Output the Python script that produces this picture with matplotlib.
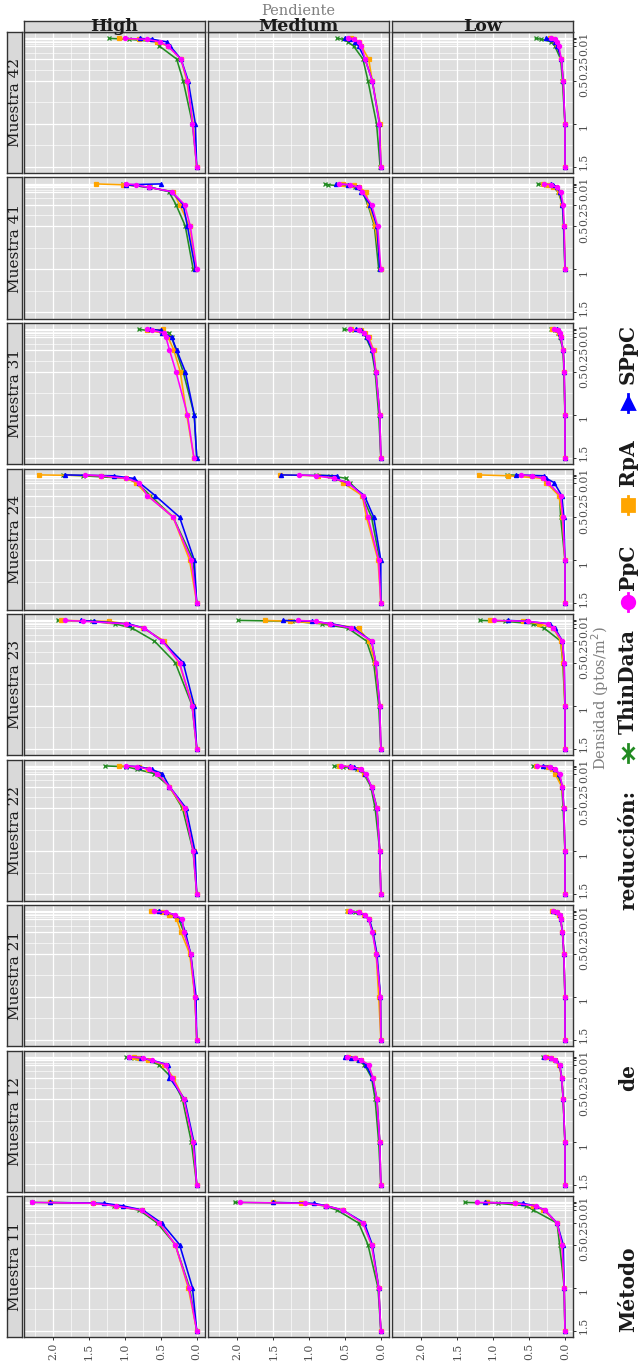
import matplotlib
matplotlib.use('Agg')
import matplotlib.pyplot as plt
from matplotlib.transforms import ScaledTranslation

# ---------------- data ----------------
densidades = [0.01, 0.02, 0.05, 0.1, 0.25, 0.5, 1.0, 1.5]
muestras = ['42', '41', '31', '24', '23', '22', '21', '12', '11']
pendientes = ['High', 'Medium', 'Low']
metodos = ['ThinData', 'PpC', 'RpA', 'SPpC']
colores = {'ThinData': '#228B22', 'PpC': '#FF00FF', 'RpA': '#FFA500', 'SPpC': '#0000FF'}
marcadores = {'ThinData': 'x', 'PpC': 'o', 'RpA': 's', 'SPpC': '^'}
x_breaks = [0.0, 0.5, 1.0, 1.5, 2.0]
x_labels = ['0.0', '0.5', '1.0', '1.5', '2.0']
y_labels = ['0.01', '', '', '', '0.25', '0.5', '1', '1.5']

# each panel: [ThinData, PpC, RpA, SPpC]
m42_high = [[1.22, 0.94, 0.55, 0.52, 0.28, 0.19, 0.06, 0.0],
            [1.00, 0.70, 0.51, 0.40, 0.22, 0.13, 0.06, 0.0],
            [1.09, 0.80, 0.56, 0.40, 0.22, 0.14, 0.05, 0.0],
            [0.79, 0.62, 0.42, 0.37, 0.22, 0.12, 0.02, 0.0]]
m42_medium = [[0.61, 0.53, 0.46, 0.38, 0.25, 0.18, 0.06, 0.01],
              [0.46, 0.38, 0.31, 0.27, 0.22, 0.12, 0.02, 0.0],
              [0.41, 0.37, 0.31, 0.27, 0.17, 0.12, 0.01, 0.0],
              [0.50, 0.43, 0.36, 0.31, 0.22, 0.12, 0.02, 0.0]]
m42_low = [[0.41, 0.33, 0.19, 0.14, 0.06, 0.035, 0.0, 0.0],
           [0.20, 0.14, 0.11, 0.085, 0.05, 0.025, 0.0, 0.0],
           [0.21, 0.16, 0.14, 0.11, 0.05, 0.025, 0.0, 0.0],
           [0.26, 0.19, 0.14, 0.11, 0.05, 0.025, 0.0, 0.0]]

m41_high = [[1.03, 0.98, 0.65, 0.39, 0.29, 0.16, 0.05],
            [0.99, 0.85, 0.67, 0.35, 0.17, 0.09, 0.0],
            [1.41, 1.03, 0.67, 0.33, 0.24, 0.10, 0.01],
            [0.50, 0.98, 0.66, 0.35, 0.19, 0.13, 0.02]]
m41_medium = [[0.78, 0.73, 0.36, 0.26, 0.18, 0.09, 0.03],
              [0.58, 0.43, 0.31, 0.26, 0.13, 0.045, 0.0],
              [0.53, 0.38, 0.31, 0.21, 0.17, 0.08, 0.0],
              [0.62, 0.46, 0.33, 0.27, 0.15, 0.055, 0.015]]
m41_low = [[0.38, 0.26, 0.16, 0.095, 0.035, 0.02, 0.0],
           [0.29, 0.19, 0.11, 0.06, 0.025, 0.01, 0.0],
           [0.31, 0.24, 0.16, 0.085, 0.035, 0.01, 0.0],
           [0.20, 0.16, 0.11, 0.075, 0.035, 0.015, 0.0]]

m31_high = [[0.81, 0.70, 0.38, 0.35, 0.29, 0.19, 0.035, 0.0],
            [0.69, 0.63, 0.45, 0.43, 0.38, 0.29, 0.13, 0.04],
            [0.47, 0.69, 0.48, 0.40, 0.32, 0.23, 0.14, 0.04],
            [0.65, 0.50, 0.48, 0.35, 0.28, 0.16, 0.035, 0.0]]
m31_medium = [[0.52, 0.41, 0.23, 0.21, 0.13, 0.08, 0.03, 0.0],
              [0.43, 0.31, 0.23, 0.18, 0.11, 0.07, 0.015, 0.0],
              [0.42, 0.28, 0.22, 0.17, 0.10, 0.07, 0.015, 0.0],
              [0.35, 0.27, 0.23, 0.20, 0.12, 0.07, 0.015, 0.0]]
m31_low = [[0.19, 0.14, 0.095, 0.075, 0.025, 0.015, 0.0, 0.0],
           [0.15, 0.10, 0.075, 0.06, 0.025, 0.01, 0.0, 0.0],
           [0.18, 0.11, 0.085, 0.06, 0.025, 0.01, 0.0, 0.0],
           [0.11, 0.085, 0.075, 0.06, 0.025, 0.01, 0.0, 0.0]]

m24_high = [[1.86, 1.59, 0.98, 0.83, 0.65, 0.33, 0.05, 0.0],
            [1.56, 1.33, 0.98, 0.80, 0.69, 0.33, 0.075, 0.0],
            [2.20, 1.33, 0.98, 0.85, 0.68, 0.33, 0.10, 0.0],
            [1.84, 1.16, 0.88, 0.80, 0.58, 0.24, 0.035, 0.0]]
m24_medium = [[0.91, 0.71, 0.48, 0.43, 0.26, 0.13, 0.015, 0.0],
              [1.14, 0.91, 0.66, 0.46, 0.25, 0.18, 0.03, 0.0],
              [1.41, 0.88, 0.63, 0.53, 0.26, 0.20, 0.04, 0.0],
              [1.39, 0.61, 0.66, 0.46, 0.23, 0.10, 0.0, 0.0]]
m24_low = [[0.81, 0.46, 0.29, 0.24, 0.075, 0.06, 0.0, 0.0],
           [0.61, 0.46, 0.30, 0.24, 0.06, 0.03, 0.0, 0.0],
           [1.20, 0.80, 0.31, 0.26, 0.085, 0.035, 0.0, 0.0],
           [0.68, 0.29, 0.26, 0.15, 0.045, 0.015, 0.0, 0.0]]

m23_high = [[1.94, 1.46, 1.14, 0.90, 0.59, 0.30, 0.065, 0.0],
            [1.84, 1.58, 0.98, 0.73, 0.48, 0.24, 0.065, 0.0],
            [1.89, 1.23, 0.98, 0.75, 0.45, 0.25, 0.05, 0.0],
            [1.61, 1.43, 0.95, 0.73, 0.48, 0.19, 0.035, 0.0]]
m23_medium = [[1.99, 1.24, 0.82, 0.46, 0.20, 0.10, 0.03, 0.0],
              [1.16, 0.91, 0.71, 0.41, 0.13, 0.07, 0.015, 0.0],
              [1.61, 1.26, 0.71, 0.31, 0.17, 0.08, 0.015, 0.0],
              [1.36, 0.96, 0.68, 0.38, 0.13, 0.07, 0.015, 0.0]]
m23_low = [[1.19, 0.84, 0.44, 0.29, 0.06, 0.03, 0.0, 0.0],
           [0.99, 0.51, 0.24, 0.16, 0.035, 0.01, 0.0, 0.0],
           [1.04, 0.59, 0.36, 0.16, 0.06, 0.025, 0.0, 0.0],
           [0.80, 0.54, 0.21, 0.14, 0.035, 0.01, 0.0, 0.0]]

m22_high = [[1.28, 0.98, 0.83, 0.59, 0.38, 0.20, 0.05, 0.0],
            [0.99, 0.83, 0.67, 0.55, 0.38, 0.17, 0.05, 0.0],
            [1.08, 0.80, 0.68, 0.53, 0.39, 0.18, 0.035, 0.0],
            [0.98, 0.80, 0.63, 0.48, 0.38, 0.15, 0.025, 0.0]]
m22_medium = [[0.65, 0.53, 0.33, 0.24, 0.14, 0.08, 0.015, 0.0],
              [0.56, 0.41, 0.28, 0.21, 0.13, 0.055, 0.015, 0.0],
              [0.58, 0.43, 0.31, 0.23, 0.13, 0.055, 0.015, 0.0],
              [0.43, 0.38, 0.28, 0.22, 0.13, 0.055, 0.015, 0.0]]
m22_low = [[0.44, 0.26, 0.16, 0.11, 0.045, 0.025, 0.0, 0.0],
           [0.39, 0.21, 0.14, 0.075, 0.035, 0.015, 0.0, 0.0],
           [0.41, 0.24, 0.18, 0.14, 0.045, 0.015, 0.0, 0.0],
           [0.31, 0.19, 0.14, 0.085, 0.035, 0.015, 0.0, 0.0]]

m21_high = [[0.55, 0.45, 0.33, 0.25, 0.18, 0.085, 0.025, 0.0],
            [0.59, 0.43, 0.30, 0.20, 0.18, 0.085, 0.025, 0.0],
            [0.64, 0.48, 0.38, 0.28, 0.22, 0.10, 0.025, 0.0],
            [0.53, 0.43, 0.30, 0.22, 0.16, 0.085, 0.01, 0.0]]
m21_medium = [[0.47, 0.36, 0.23, 0.17, 0.11, 0.065, 0.005, 0.0],
              [0.43, 0.30, 0.22, 0.17, 0.12, 0.065, 0.005, 0.0],
              [0.46, 0.31, 0.23, 0.17, 0.11, 0.065, 0.03, 0.0],
              [0.43, 0.31, 0.22, 0.16, 0.11, 0.055, 0.005, 0.0]]
m21_low = [[0.17, 0.11, 0.075, 0.06, 0.035, 0.015, 0.0, 0.0],
           [0.17, 0.11, 0.075, 0.06, 0.035, 0.015, 0.0, 0.0],
           [0.18, 0.13, 0.085, 0.06, 0.035, 0.015, 0.0, 0.0],
           [0.16, 0.11, 0.075, 0.06, 0.035, 0.015, 0.0, 0.0]]

m12_high = [[0.98, 0.88, 0.68, 0.53, 0.35, 0.20, 0.075, 0.0],
            [0.95, 0.75, 0.63, 0.43, 0.35, 0.18, 0.05, 0.0],
            [0.88, 0.80, 0.68, 0.45, 0.33, 0.18, 0.05, 0.0],
            [0.95, 0.78, 0.62, 0.40, 0.38, 0.17, 0.04, 0.0]]
m12_medium = [[0.48, 0.38, 0.32, 0.23, 0.13, 0.08, 0.03, 0.0],
              [0.47, 0.36, 0.27, 0.17, 0.11, 0.055, 0.015, 0.0],
              [0.46, 0.36, 0.28, 0.18, 0.11, 0.055, 0.015, 0.0],
              [0.50, 0.41, 0.31, 0.21, 0.12, 0.055, 0.015, 0.0]]
m12_low = [[0.31, 0.19, 0.14, 0.075, 0.045, 0.025, 0.0, 0.0],
           [0.28, 0.19, 0.14, 0.075, 0.045, 0.025, 0.0, 0.0],
           [0.26, 0.19, 0.14, 0.085, 0.045, 0.025, 0.0, 0.0],
           [0.29, 0.19, 0.13, 0.075, 0.045, 0.025, 0.0, 0.0]]

m11_high = [[2.30, 1.45, 1.15, 0.80, 0.55, 0.30, 0.10, 0.0],
            [2.29, 1.45, 1.13, 0.77, 0.52, 0.30, 0.11, 0.0],
            [2.05, 1.45, 1.13, 0.77, 0.52, 0.30, 0.12, 0.0],
            [2.04, 1.29, 1.03, 0.75, 0.49, 0.24, 0.06, 0.0]]
m11_medium = [[2.04, 1.11, 0.78, 0.61, 0.31, 0.18, 0.04, 0.0],
              [1.96, 1.06, 0.76, 0.53, 0.25, 0.13, 0.03, 0.0],
              [1.51, 1.11, 0.76, 0.53, 0.25, 0.13, 0.03, 0.0],
              [1.51, 0.93, 0.76, 0.53, 0.23, 0.12, 0.03, 0.0]]
m11_low = [[1.40, 0.94, 0.54, 0.44, 0.11, 0.075, 0.01, 0.0],
           [1.22, 0.69, 0.41, 0.28, 0.11, 0.04, 0.01, 0.0],
           [1.08, 0.69, 0.44, 0.30, 0.11, 0.04, 0.01, 0.0],
           [1.12, 0.59, 0.41, 0.28, 0.11, 0.025, 0.01, 0.0]]

paneles = {
    '42': [m42_high, m42_medium, m42_low],
    '41': [m41_high, m41_medium, m41_low],
    '31': [m31_high, m31_medium, m31_low],
    '24': [m24_high, m24_medium, m24_low],
    '23': [m23_high, m23_medium, m23_low],
    '22': [m22_high, m22_medium, m22_low],
    '21': [m21_high, m21_medium, m21_low],
    '12': [m12_high, m12_medium, m12_low],
    '11': [m11_high, m11_medium, m11_low],
}

# ---------------- layout ----------------
W, H = 644, 1368
FONT = 'DejaVu Serif'
fig = plt.figure(figsize=(W / 100, H / 100), dpi=100)
fig.patch.set_facecolor('white')


def fr(x0, y0, w, h):
    return [x0 / W, 1 - (y0 + h) / H, w / W, h / H]


col_x = [23.5, 207.6, 391.7]
pw = 181.5
row_top0 = 32.0
ph = 141.0
row_step = 145.5
edge = '#333333'
panel_bg = '#DEDEDE'
strip_bg = '#D9D9D9'
tick_col = '#4D4D4D'
draw_order = ['ThinData', 'RpA', 'SPpC', 'PpC']
# downward pixel shift of the right-hand tick labels (as laid out in the reference)
label_shift_px = [5, 0, 0, 0, 9, 8, 3, -5]

xlim = (2.415, -0.115)
ylim = (1.5745, -0.0645)

for r, m in enumerate(muestras):
    y0 = row_top0 + r * row_step
    # left strip
    sax = fig.add_axes(fr(7.0, y0, 15.5, ph))
    sax.set_facecolor(strip_bg)
    sax.set_xticks([]); sax.set_yticks([])
    for s in sax.spines.values():
        s.set_color(edge); s.set_linewidth(1.0)
    sax.text(0.5, 0.5, 'Muestra ' + m, rotation=90, ha='center', va='center',
             transform=sax.transAxes, fontsize=11, family=FONT, color='#1A1A1A')
    for c, p in enumerate(pendientes):
        ax = fig.add_axes(fr(col_x[c], y0, pw, ph))
        ax.set_facecolor(panel_bg)
        ax.set_xlim(*xlim)
        ax.set_ylim(*ylim)
        ax.set_xticks(x_breaks)
        ax.set_xticks([0.25, 0.75, 1.25, 1.75, 2.25], minor=True)
        ax.set_yticks(densidades)
        ax.set_yticks([0.015, 0.035, 0.075, 0.175, 0.375, 0.75, 1.25], minor=True)
        ax.grid(which='major', color='white', linewidth=0.9)
        ax.grid(which='minor', color='white', linewidth=0.45)
        ax.set_axisbelow(True)
        for s in ax.spines.values():
            s.set_color(edge); s.set_linewidth(1.0)
        ax.yaxis.tick_right()
        ax.tick_params(which='minor', length=0)
        ax.tick_params(which='major', length=2.5, width=0.7, color=edge, pad=1.5,
                       labelsize=7.8, labelcolor=tick_col)
        if r == len(muestras) - 1:
            ax.set_xticklabels(x_labels, rotation=90, family=FONT)
        else:
            ax.tick_params(axis='x', which='major', length=0)
            ax.set_xticklabels([])
        if c == 2:
            ax.set_yticklabels(y_labels, rotation=90, family=FONT, va='center')
            for lab, dy in zip(ax.get_yticklabels(), label_shift_px):
                lab.set_transform(lab.get_transform() +
                                  ScaledTranslation(0, -dy / 100, fig.dpi_scale_trans))
        else:
            ax.tick_params(axis='y', which='major', length=0)
            ax.set_yticklabels([])
        serie = paneles[m][c]
        for met in draw_order:
            vals = serie[metodos.index(met)]
            ax.plot(vals, densidades[:len(vals)], color=colores[met],
                    marker=marcadores[met], markersize=3.0, markeredgewidth=0.9,
                    linewidth=1.15, zorder=3)
        if r == 0:
            tax = fig.add_axes(fr(col_x[c], 20.5, pw, 11.5))
            tax.set_facecolor(strip_bg)
            tax.set_xticks([]); tax.set_yticks([])
            for s in tax.spines.values():
                s.set_color(edge); s.set_linewidth(1.0)
            tax.text(0.5, 0.45, p, ha='center', va='center', transform=tax.transAxes,
                     fontsize=12.5, fontweight='bold', family=FONT, color='#1A1A1A')

fig.text(298 / W, 1 - 11 / H, 'Pendiente', ha='center', va='center',
         fontsize=10.5, family=FONT, color='#7F7F7F')
fig.text(600 / W, 1 - 698 / H, 'Densidad (ptos/m$^2$)', ha='center', va='center',
         rotation=90, fontsize=10.5, family=FONT, color='#7F7F7F')

# ---------------- legend (rotated) ----------------
lax = fig.add_axes(fr(608, 280, 36, 1068))
lax.set_xlim(0, 36)
lax.set_ylim(1348, 280)
lax.axis('off')
titulo = ['Método', 'de', 'reducción:']
titulo_y = [1332, 1091, 910]
for palabra, ty in zip(titulo, titulo_y):
    lax.text(20, ty, palabra, rotation=90, ha='center', va='bottom',
             fontsize=14.5, fontweight='bold', family=FONT, color='#1A1A1A')
key_y = {'ThinData': 753, 'PpC': 602, 'RpA': 505, 'SPpC': 403}
txt_y = {'ThinData': 734, 'PpC': 590, 'RpA': 486, 'SPpC': 384}
for met in metodos:
    ky = key_y[met]
    lax.plot([20, 20], [ky - 9, ky + 9], color=colores[met], linewidth=2.0)
    lax.plot([20], [ky], color=colores[met], marker=marcadores[met], markersize=9,
             markeredgewidth=2.0, linestyle='none')
    lax.text(20, txt_y[met], met, rotation=90, ha='center', va='bottom',
             fontsize=14.5, fontweight='bold', family=FONT, color='#1A1A1A')

fig.savefig('out.png', dpi=100)
